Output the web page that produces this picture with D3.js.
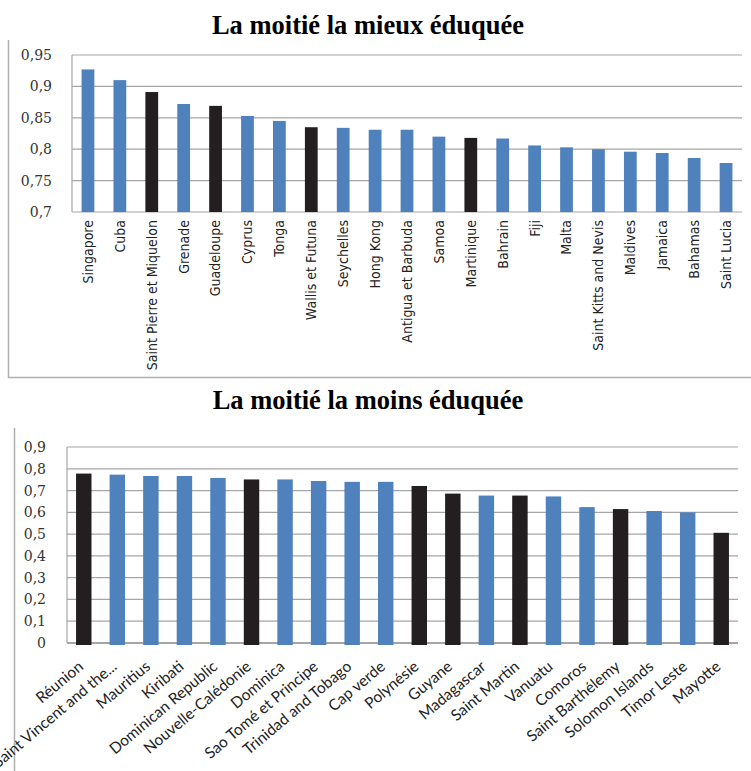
<!DOCTYPE html>
<html>
<head>
<meta charset="utf-8">
<script src="https://cdn.jsdelivr.net/npm/d3@7"></script>
<style>
body{margin:0;background:#fff;}
svg{display:block;}
.tick line{display:none;}
.domain{display:none;}
</style>
</head>
<body>
<div id="graph"></div>
<script>
var width = 751,
height = 771,
bleu = "#4F81BD",
noir = "#231F20",
grille = "#A6A6A6";

// graphique du haut
var paysHaut = ["Singapore","Cuba","Saint Pierre et Miquelon","Grenade","Guadeloupe","Cyprus","Tonga","Wallis et Futuna","Seychelles","Hong Kong","Antigua et Barbuda","Samoa","Martinique","Bahrain","Fiji","Malta","Saint Kitts and Nevis","Maldives","Jamaica","Bahamas","Saint Lucia"];
var valHaut = [0.927,0.910,0.891,0.872,0.869,0.853,0.845,0.835,0.834,0.831,0.831,0.820,0.818,0.817,0.806,0.803,0.800,0.796,0.794,0.786,0.778];
var noirsHaut = ["Saint Pierre et Miquelon","Guadeloupe","Wallis et Futuna","Martinique"];
var ticksHaut = [0.7,0.75,0.8,0.85,0.9,0.95];

// graphique du bas
var paysBas = ["Réunion","Saint Vincent and the...","Mauritius","Kiribati","Dominican Republic","Nouvelle-Calédonie","Dominica","Sao Tomé et Principe","Trinidad and Tobago","Cap verde","Polynésie","Guyane","Madagascar","Saint Martin","Vanuatu","Comoros","Saint Barthélemy","Solomon Islands","Timor Leste","Mayotte"];
var valBas = [0.778,0.773,0.767,0.767,0.758,0.751,0.751,0.744,0.740,0.740,0.721,0.686,0.677,0.677,0.673,0.624,0.615,0.606,0.600,0.506];
var noirsBas = ["Réunion","Nouvelle-Calédonie","Polynésie","Guyane","Saint Martin","Saint Barthélemy","Mayotte"];
var ticksBas = [0,0.1,0.2,0.3,0.4,0.5,0.6,0.7,0.8,0.9];

var svg = d3.select("#graph").append("svg")
	.attr("width",width)
	.attr("height",height);

var virgule = function(d){ return String(d).replace(".",","); };

// ---- haut ----
svg.append("text")
	.attr("x",368).attr("y",34)
	.attr("text-anchor","middle")
	.attr("font-family","Liberation Serif, serif")
	.attr("font-weight","bold")
	.attr("font-size",26.5)
	.text("La moitié la mieux éduquée");

svg.append("path")
	.attr("d","M8.5,40 V377.5 H751")
	.attr("fill","none").attr("stroke","#B0B0B0").attr("stroke-width",1.5);

var xH = d3.scaleBand().domain(paysHaut).range([72,742]).paddingInner(0.6).paddingOuter(0.3);
var yH = d3.scaleLinear().domain([0.7,0.95]).range([212,55]);

var gH = svg.append("g");
gH.selectAll(".grid").data(ticksHaut).enter().append("line")
	.attr("x1",72).attr("x2",742)
	.attr("y1",function(d){return yH(d);}).attr("y2",function(d){return yH(d);})
	.attr("stroke",grille).attr("stroke-width",1.2);
gH.append("line").attr("x1",72).attr("x2",72).attr("y1",55).attr("y2",212)
	.attr("stroke",grille).attr("stroke-width",1.2);

gH.selectAll("rect").data(paysHaut).enter().append("rect")
	.attr("x",function(d){return xH(d);})
	.attr("width",xH.bandwidth())
	.attr("y",function(d,i){return yH(valHaut[i]);})
	.attr("height",function(d,i){return yH(0.7)-yH(valHaut[i]);})
	.attr("fill",function(d){return noirsHaut.indexOf(d)>=0 ? noir : bleu;});

var axeGH = svg.append("g").attr("transform","translate(55,0)")
	.call(d3.axisLeft(yH).tickValues(ticksHaut).tickFormat(virgule).tickSize(0));
axeGH.selectAll("text")
	.attr("font-family","DejaVu Serif, serif").attr("font-size",14).attr("fill","#333");

var axeBH = svg.append("g").attr("transform","translate(0,212)")
	.call(d3.axisBottom(xH).tickSize(0));
axeBH.selectAll("text")
	.attr("transform","rotate(-90)")
	.attr("text-anchor","end")
	.attr("x",-8).attr("y",0).attr("dy","0.35em")
	.attr("font-family","Liberation Sans Narrow, DejaVu Sans Condensed, sans-serif")
	.attr("font-size",14).attr("fill","#222");

// ---- bas ----
svg.append("text")
	.attr("x",368).attr("y",409)
	.attr("text-anchor","middle")
	.attr("font-family","Liberation Serif, serif")
	.attr("font-weight","bold")
	.attr("font-size",26.5)
	.text("La moitié la moins éduquée");

svg.append("path")
	.attr("d","M14.5,428 V771")
	.attr("fill","none").attr("stroke","#B0B0B0").attr("stroke-width",1.5);

var xB = d3.scaleBand().domain(paysBas).range([67,738]).paddingInner(0.54).paddingOuter(0.27);
var yB = d3.scaleLinear().domain([0,0.9]).range([643,447]);

var gB = svg.append("g");
gB.selectAll(".grid").data(ticksBas).enter().append("line")
	.attr("x1",67).attr("x2",738)
	.attr("y1",function(d){return yB(d);}).attr("y2",function(d){return yB(d);})
	.attr("stroke",grille).attr("stroke-width",function(d){return d==0 ? 2 : 1.2;});
gB.append("line").attr("x1",67).attr("x2",67).attr("y1",447).attr("y2",643)
	.attr("stroke",grille).attr("stroke-width",1.2);

gB.selectAll("rect").data(paysBas).enter().append("rect")
	.attr("x",function(d){return xB(d);})
	.attr("width",xB.bandwidth())
	.attr("y",function(d,i){return yB(valBas[i]);})
	.attr("height",function(d,i){return yB(0)-yB(valBas[i])+2;})
	.attr("fill",function(d){return noirsBas.indexOf(d)>=0 ? noir : bleu;});

var axeGB = svg.append("g").attr("transform","translate(49,0)")
	.call(d3.axisLeft(yB).tickValues(ticksBas).tickFormat(virgule).tickSize(0));
axeGB.selectAll("text")
	.attr("font-family","DejaVu Serif, serif").attr("font-size",14).attr("fill","#333");

var axeBB = svg.append("g").attr("transform","translate(0,643)")
	.call(d3.axisBottom(xB).tickSize(0));
axeBB.selectAll("text")
	.attr("text-anchor","end")
	.attr("transform","translate(-3,21) rotate(-40)")
	.attr("x",0).attr("y",0).attr("dy","0.35em")
	.attr("font-family","Lato, sans-serif")
	.attr("font-size",15.5).attr("fill","#222");
</script>
</body>
</html>
